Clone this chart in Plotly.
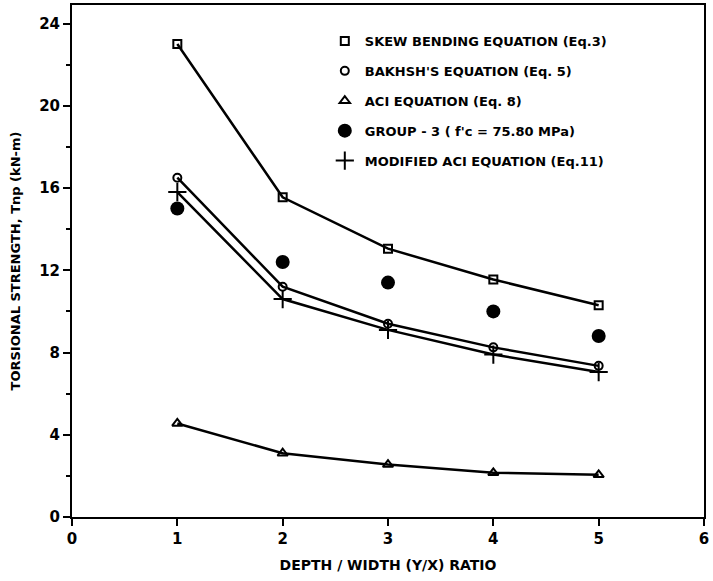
import plotly.graph_objects as go

ratio = [1, 2, 3, 4, 5]
skew_bending = [23.0, 15.55, 13.05, 11.55, 10.3]
bakhsh = [16.5, 11.2, 9.4, 8.25, 7.35]
aci = [4.55, 3.1, 2.55, 2.15, 2.05]
group3 = [15.0, 12.4, 11.4, 10.0, 8.8]
modified_aci = [15.8, 10.6, 9.1, 7.9, 7.05]

names = [
    "SKEW BENDING EQUATION (Eq.3)",
    "BAKHSH'S EQUATION (Eq. 5)",
    "ACI EQUATION (Eq. 8)",
    "GROUP - 3 ( f'c = 75.80 MPa)",
    "MODIFIED ACI EQUATION (Eq.11)",
]

FONT = "DejaVu Sans"
fig = go.Figure()

line_series = [
    (skew_bending, "square-open", 8, names[0], "g1"),
    (bakhsh, "circle-open", 8, names[1], "g2"),
    (aci, "triangle-up-open", 9, names[2], "g3"),
    (modified_aci, "cross-thin-open", 13, names[4], "g5"),
]

for ys, sym, sz, nm, grp in line_series:
    fig.add_trace(go.Scatter(
        x=ratio, y=ys, mode="lines+markers", name=nm, legendgroup=grp,
        showlegend=False,
        line=dict(color="black", width=2.5),
        marker=dict(symbol=sym, size=sz, color="black", line=dict(color="black", width=2)),
    ))

legend_order = [
    (skew_bending, "square-open", 8, names[0], "g1"),
    (bakhsh, "circle-open", 8, names[1], "g2"),
    (aci, "triangle-up-open", 9, names[2], "g3"),
    (group3, "circle", 14, names[3], "g4"),
    (modified_aci, "cross-thin-open", 13, names[4], "g5"),
]
for ys, sym, sz, nm, grp in legend_order:
    if grp == "g4":
        fig.add_trace(go.Scatter(
            x=ratio, y=ys, mode="markers", name=nm, legendgroup=grp, showlegend=True,
            marker=dict(symbol=sym, size=sz, color="black"),
        ))
    else:
        fig.add_trace(go.Scatter(
            x=[None], y=[None], mode="markers", name=nm, legendgroup=grp, showlegend=True,
            marker=dict(symbol=sym, size=sz, color="black", line=dict(color="black", width=2)),
        ))

fig.update_layout(
    width=713, height=581,
    margin=dict(l=72, r=9, t=5, b=64),
    paper_bgcolor="white", plot_bgcolor="white",
    font=dict(family=FONT, color="black", size=13, weight="bold"),
    legend=dict(
        x=0.40, y=0.959, xanchor="left", yanchor="top",
        bgcolor="rgba(0,0,0,0)", font=dict(size=13, family=FONT, weight="bold"),
        traceorder="grouped", tracegroupgap=10, itemwidth=30,
    ),
    xaxis=dict(
        range=[0, 6], dtick=1, tick0=0, automargin=False,
        showgrid=False, zeroline=False, ticklabeloverflow="allow",
        showline=True, linecolor="black", linewidth=2, mirror=True,
        ticks="outside", ticklen=7, tickwidth=2, tickcolor="black",
        tickfont=dict(size=15, family=FONT, weight="bold"),
        title=dict(text="DEPTH / WIDTH (Y/X) RATIO", font=dict(size=14, family=FONT, weight="bold"), standoff=13),
    ),
    yaxis=dict(
        range=[0, 24.9], dtick=4, tick0=0, automargin=False,
        showgrid=False, zeroline=False,
        showline=True, linecolor="black", linewidth=2, mirror=True,
        ticks="outside", ticklen=7, tickwidth=2, tickcolor="black",
        minor=dict(dtick=2, ticks="outside", ticklen=4, tickwidth=2, tickcolor="black"),
        tickfont=dict(size=15, family=FONT, weight="bold"),
        title=dict(text="TORSIONAL STRENGTH, Tnp (kN-m)", font=dict(size=13, family=FONT, weight="bold"), standoff=16),
    ),
)

fig.write_html("out.html", config={"displayModeBar": False},
               post_script="document.body.style.margin='0';")
